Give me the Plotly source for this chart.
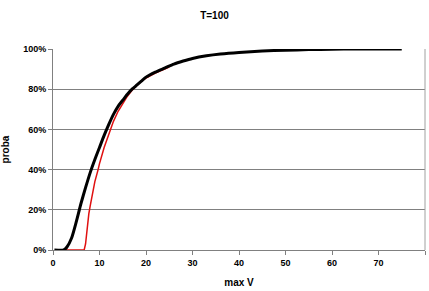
import plotly.graph_objects as go

black_x = [0.3, 2.3, 3, 4, 5, 6, 7, 8, 9, 10, 11, 12, 13, 14, 15, 16, 17, 18, 19, 20,
           22, 24, 26, 28, 30, 33, 36, 40, 45, 50, 55, 60, 65, 70, 75]
black_y = [0, 0, 1.5, 6, 14, 23, 31, 38.5, 45, 51, 57, 62.5, 67.5, 71.5, 74.5, 77.5, 80, 82, 84, 86,
           88.5, 90.5, 92.5, 94, 95.3, 96.6, 97.5, 98.3, 99, 99.4, 99.7, 99.9, 100, 100, 100]

red_x = [2.5, 6.7, 7.0, 7.3, 7.7, 8, 8.5, 9, 9.7, 10, 11, 12, 13, 14, 15, 16, 17, 18, 19, 20, 22, 25]
red_y = [0, 0, 3, 10, 18, 22, 29, 34, 40, 43, 51, 58, 64, 69, 73, 76.5, 79.5, 82, 84, 85.5, 88, 91]

y_ticks = [0, 20, 40, 60, 80, 100]
y_labels = ["0%", "20%", "40%", "60%", "80%", "100%"]
x_ticks = [0, 10, 20, 30, 40, 50, 60, 70, 80]

font_family = "Liberation Sans, Arial, sans-serif"

fig = go.Figure()
fig.add_trace(go.Scatter(x=red_x, y=red_y, mode="lines",
                         line=dict(color="#e01010", width=1.5), showlegend=False))
fig.add_trace(go.Scatter(x=black_x, y=black_y, mode="lines",
                         line=dict(color="black", width=3, shape="spline", smoothing=0.6),
                         showlegend=False))

fig.update_layout(
    width=429, height=291,
    margin=dict(l=51, r=4, t=49, b=41),
    paper_bgcolor="white", plot_bgcolor="white",
    font=dict(family=font_family, color="black", size=9),
    title=dict(text="<b>T=100</b>", x=0.5, xanchor="center", y=1 - 15 / 291, yanchor="middle",
               font=dict(size=10, family=font_family)),
    xaxis=dict(range=[0, 80], tickvals=x_ticks, ticks="outside", ticklen=4,
               tickcolor="#808080", showline=True, linecolor="#808080", linewidth=1,
               mirror=False, showgrid=False, zeroline=False,
               tickfont=dict(size=9, weight="bold"),
               title=dict(text="<b>max V</b>", font=dict(size=10), standoff=12)),
    yaxis=dict(range=[0, 100], tickvals=y_ticks, ticktext=y_labels, ticks="outside",
               ticklen=4, tickcolor="#808080", showline=True, linecolor="#808080",
               linewidth=1, showgrid=True, gridcolor="#808080", gridwidth=1,
               zeroline=False, tickfont=dict(size=9, weight="bold"),
               title=dict(text="<b>proba</b>", font=dict(size=10), standoff=12)),
)
fig.add_shape(type="line", xref="paper", yref="paper", x0=1, x1=1, y0=0, y1=1,
              line=dict(color="#a0a0a0", width=1))

fig.write_html("out.html")
